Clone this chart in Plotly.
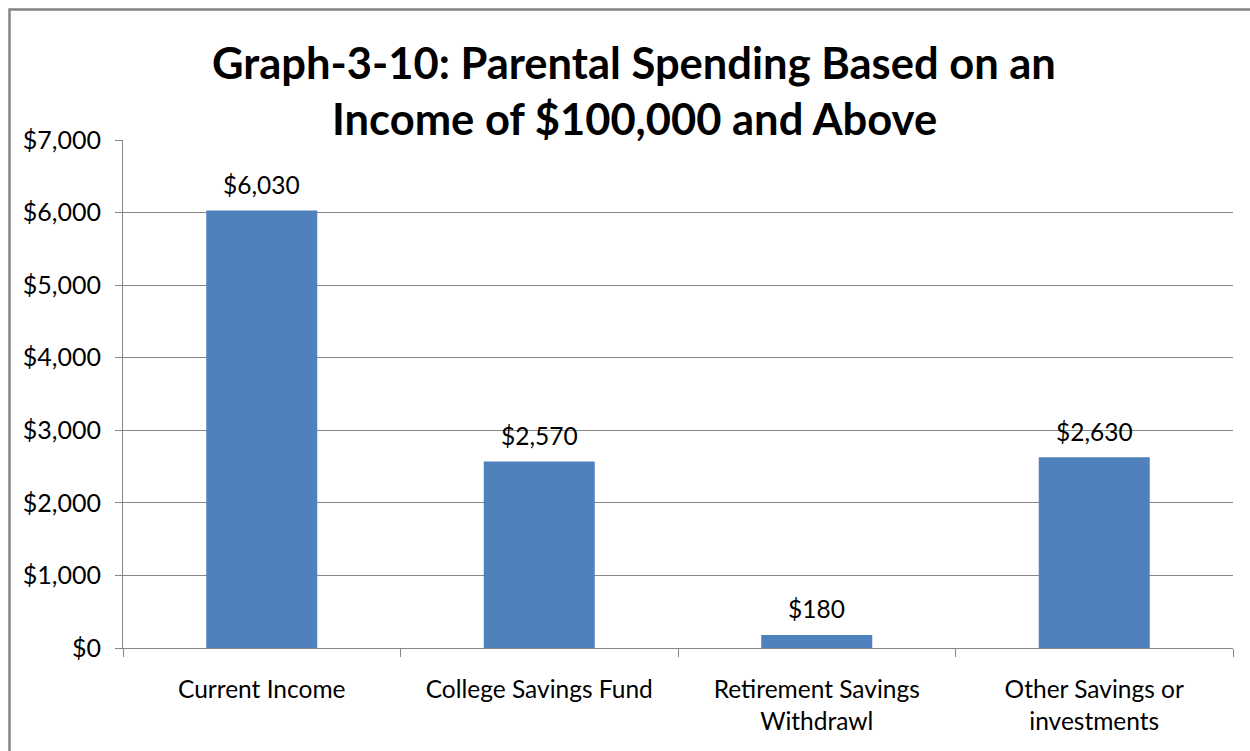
import plotly.graph_objects as go

# Chart data
categories = ["Current Income", "College Savings Fund", "Retirement Savings<br>Withdrawl", "Other Savings or<br>investments"]
spending = [6030, 2570, 180, 2630]
title_lines = ["Graph-3-10: Parental Spending Based on an", "Income of $100,000 and Above"]

FONT = "Lato"
BAR_COLOR = "#4F81BD"
GRID = "#878787"

W, H = 1250, 751
L, R, T, B = 123, 17, 140, 103

fig = go.Figure(
    go.Bar(
        x=categories,
        y=spending,
        marker=dict(color=BAR_COLOR, line=dict(width=0)),
        width=0.4,
        cliponaxis=False,
    )
)

# Value labels above each bar
for cat, val in zip(categories, spending):
    fig.add_annotation(
        x=cat, y=val,
        text=f"${val:,}",
        showarrow=False,
        xanchor="center", yanchor="middle",
        yshift=26,
        font=dict(family=FONT, size=24.5, color="#000000"),
    )

fig.update_layout(
    width=W,
    height=H,
    margin=dict(l=L, r=R, t=T, b=B, pad=0),
    paper_bgcolor="white",
    plot_bgcolor="white",
    showlegend=False,
    font=dict(family=FONT, color="#000000"),
    bargap=0.6,
)

fig.update_yaxes(
    range=[0, 7000],
    dtick=1000,
    tickprefix="$",
    tickformat=",d",
    showgrid=True,
    gridcolor=GRID,
    gridwidth=1,
    zeroline=False,
    showline=True,
    linecolor=GRID,
    linewidth=1,
    ticks="outside",
    ticklen=7,
    tickcolor=GRID,
    tickfont=dict(family=FONT, size=25, color="#000000"),
    ticklabelstandoff=9,
)

fig.update_xaxes(
    showgrid=False,
    showline=True,
    linecolor=GRID,
    linewidth=1,
    ticks="outside",
    ticklen=8,
    tickcolor=GRID,
    tickson="boundaries",
    tickfont=dict(family=FONT, size=24.5, color="#000000"),
    ticklabelstandoff=20,
)

# Two-line bold title, centred over the chart
plot_w = W - L - R
plot_h = H - T - B
cx = (634 - L) / plot_w
for line, py in zip(title_lines, [62, 118]):
    fig.add_annotation(
        text=f"<b>{line}</b>",
        xref="paper", yref="paper",
        x=cx, y=(H - B - py) / plot_h,
        xanchor="center", yanchor="middle",
        showarrow=False,
        font=dict(family=FONT, size=43.5, color="#000000"),
    )

# Outer chart border
fig.add_shape(
    type="rect",
    xref="paper", yref="paper",
    x0=(9.5 - L) / plot_w, x1=(W + 20 - L) / plot_w,
    y0=(H - B - (H + 20)) / plot_h, y1=(H - B - 9.5) / plot_h,
    line=dict(color="#858585", width=2.5),
    fillcolor="rgba(0,0,0,0)",
    layer="above",
)

fig.write_html("out.html")
